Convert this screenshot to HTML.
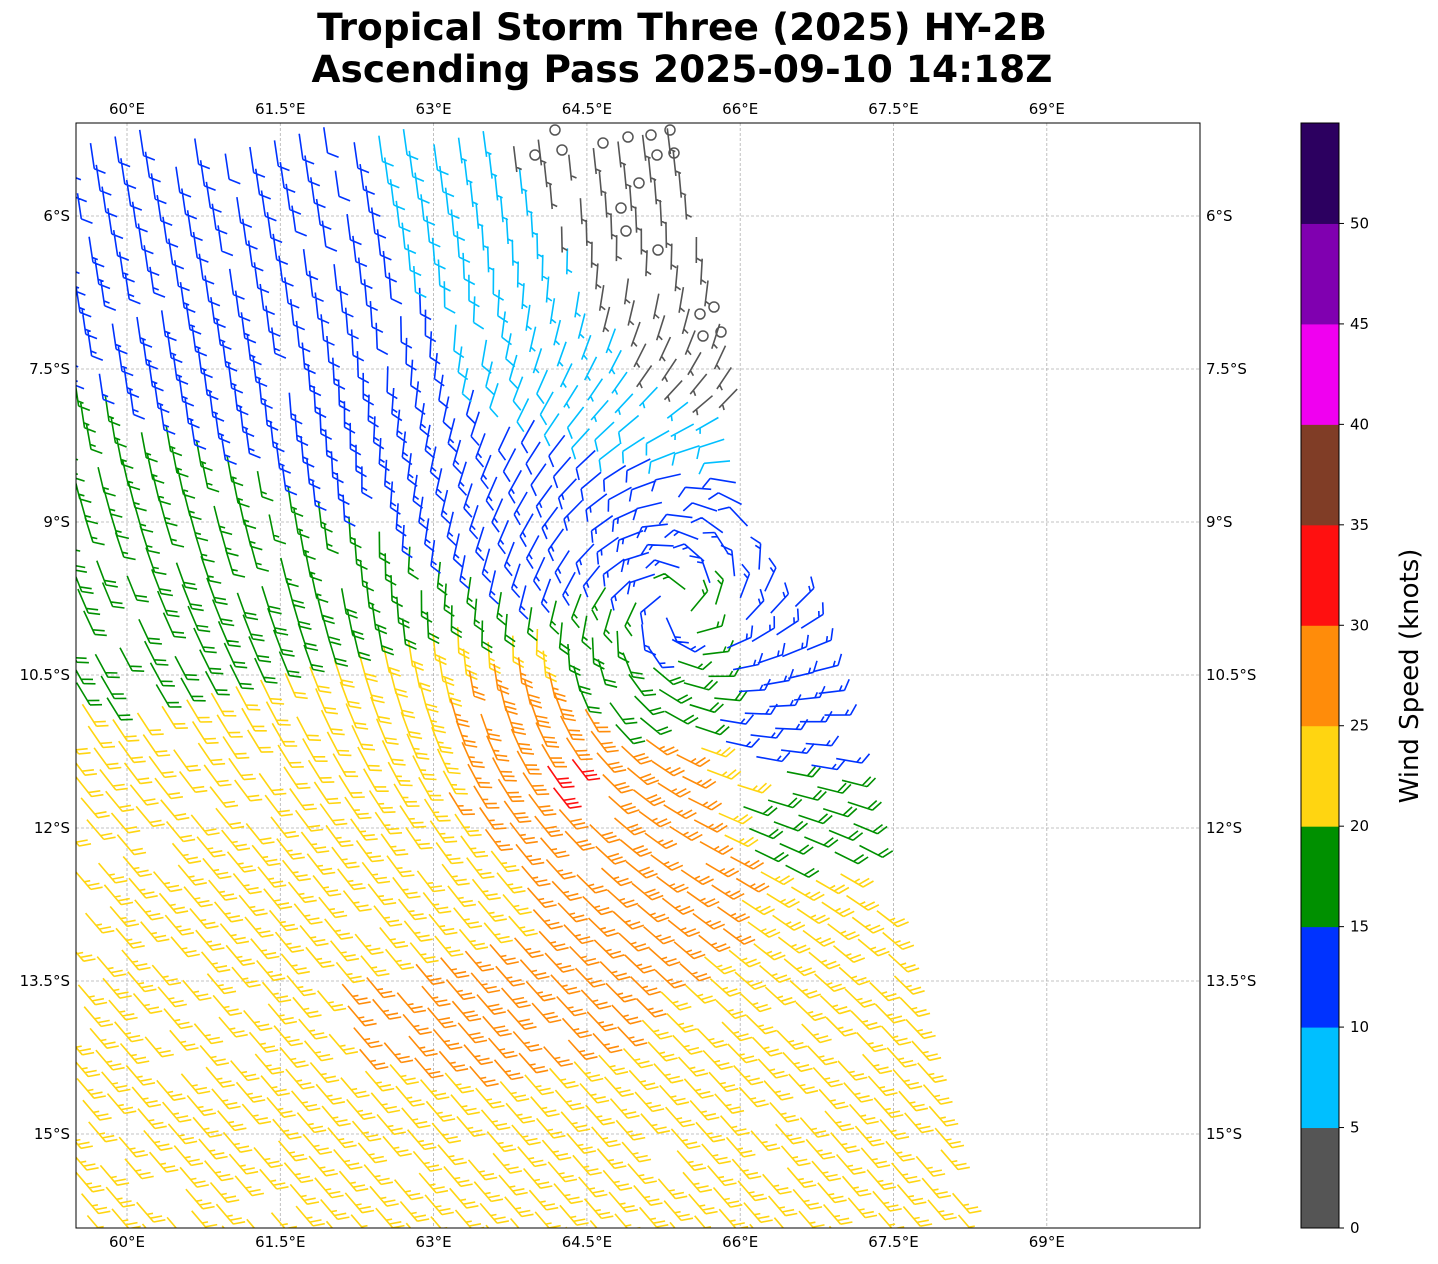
<!DOCTYPE html>
<html><head><meta charset="utf-8">
<style>
html,body{margin:0;padding:0;background:#fff;}
body{width:1438px;height:1264px;overflow:hidden;position:relative;font-family:"DejaVu Sans",sans-serif;}
svg{position:absolute;left:0;top:0;}
</style></head>
<body>
<svg id="s" width="1438" height="1264" xmlns="http://www.w3.org/2000/svg" font-family="DejaVu Sans, Liberation Sans, sans-serif">
<text x="682" y="40" font-size="37.5" font-weight="bold" text-anchor="middle">Tropical Storm Three (2025) HY-2B</text>
<text x="682" y="82" font-size="37.5" font-weight="bold" text-anchor="middle">Ascending Pass 2025-09-10 14:18Z</text>
<defs><clipPath id="cp"><rect x="76" y="123" width="1124" height="1105"/></clipPath></defs>
<g id="grid" stroke="#b0b0b0" stroke-width="0.8" stroke-dasharray="3,2"></g>
<g id="barbs" clip-path="url(#cp)" fill="none" stroke-width="1.6" stroke-linecap="butt"></g>
<rect x="76" y="123" width="1124" height="1105" fill="none" stroke="#000" stroke-width="1"/>
<g id="labels" font-size="15" fill="#000"></g>
<g id="cbar"></g>
<text transform="translate(1418,676) rotate(-90)" font-size="26" text-anchor="middle">Wind Speed (knots)</text>
</svg>
<script>
const NS="http://www.w3.org/2000/svg";
function el(tag,attrs,parent,txt){const e=document.createElementNS(NS,tag);for(const k in attrs)e.setAttribute(k,attrs[k]);if(txt!==undefined)e.textContent=txt;parent.appendChild(e);return e;}
const X0=76,X1=1200,Y0=123,Y1=1228;
const lx=l=>127+(l-60)*102.2, ly=a=>216+(a-6)*102.0;
const grid=document.getElementById('grid'),labels=document.getElementById('labels');
const lons=[60,61.5,63,64.5,66,67.5,69],lonT=["60°E","61.5°E","63°E","64.5°E","66°E","67.5°E","69°E"];
lons.forEach((l,i)=>{const x=lx(l);el('line',{x1:x,x2:x,y1:Y0,y2:Y1},grid);
 el('text',{x:x,y:114,'text-anchor':'middle'},labels,lonT[i]);el('text',{x:x,y:1247,'text-anchor':'middle'},labels,lonT[i]);});
const lats=[6,7.5,9,10.5,12,13.5,15],latT=["6°S","7.5°S","9°S","10.5°S","12°S","13.5°S","15°S"];
lats.forEach((a,i)=>{const y=ly(a);el('line',{x1:X0,x2:X1,y1:y,y2:y},grid);
 el('text',{x:70,y:y+5,'text-anchor':'end'},labels,latT[i]);el('text',{x:1206,y:y+5,'text-anchor':'start'},labels,latT[i]);});
const cols=["#555555","#00bfff","#0033ff","#009000","#ffd511","#ff8c0a","#ff1010","#803d26","#f000f0","#8000b0","#2c0060"];
const cb=document.getElementById('cbar');const seg=1105/11;
cols.forEach((c,i)=>{el('rect',{x:1301,y:1228-(i+1)*seg,width:38,height:seg+0.5,fill:c},cb);});
el('rect',{x:1301,y:123,width:38,height:1105,fill:'none',stroke:'#000','stroke-width':1},cb);
for(let v=0;v<=50;v+=5){const y=1228-v/5*seg;el('line',{x1:1339,x2:1344,y1:y,y2:y,stroke:'#000'},cb);el('text',{x:1350,y:y+5,'font-size':15},cb,String(v));}
const cx=660,cy=625;
function clamp(v,a,b){return Math.max(a,Math.min(b,v));}
function interp(pts,v){if(v<=pts[0][0])return pts[0][1];for(let i=1;i<pts.length;i++){if(v<=pts[i][0]){const t=(v-pts[i-1][0])/(pts[i][0]-pts[i-1][0]);return pts[i-1][1]+t*(pts[i][1]-pts[i-1][1]);}}return pts[pts.length-1][1];}
const edge=[[100,688],[250,700],[330,725],[420,745],[520,762],[600,795],[680,822],[760,845],[860,875],[930,892],[1228,975]];
function speed(x,y){
 const b1=390+0.49*(x-100), b2=700-0.18*(x-100);
 let s;
 if(y<b1) s=11+4*clamp((y-(b1-250))/250,0,1);
 else if(y<b2) s=15+5*(y-b1)/Math.max(b2-b1,1);
 else s=20+2.5*clamp((y-b2)/150,0,1);
 if(y>=b2-10){s+=5.5*Math.exp(-Math.pow((x-470)/170,2)-Math.pow((y-1010)/70,2))+4.5*Math.exp(-Math.pow((x-640)/130,2)-Math.pow((y-890)/80,2));}
 s+=8*Math.exp(-Math.pow((x-560)/110,2)-Math.pow((y-760)/80,2))+6*Math.exp(-Math.pow((x-500)/60,2)-Math.pow((y-680)/40,2));
 if(y<480){const bc=360+0.45*(y-150), bg=530+0.6*(y-150);
  let fade=clamp((480-y)/100,0,1);
  let calm;
  if(x<bc) calm=s; else if(x<bg) calm=10-5.5*(x-bc)/(bg-bc); else calm=3.5;
  s=s*(1-fade)+Math.min(s,calm)*fade;}
 const r=Math.hypot(x-cx,y-cy);
 if(r<110 && y>cy-40) s=clamp(s,16,19.5);
 else if(r<110) s=clamp(s,11,14.5);
 if(r<30) s=13;
 if(x>720&&y>430&&y<770){s=Math.min(s,14.5);if(y<470)s=Math.min(s,9);}
 if(x>740&&y>=770&&y<870) s=Math.min(s,18.5);
 return s;
}
function dir(x,y){
 const t=clamp((y-400)/400,0,1);
 let ex=0.15*(1-t)+0.65*t, ey=1*(1-t)+0.76*t;let n=Math.hypot(ex,ey);ex/=n;ey/=n;
 const rx=x-cx,ry=y-cy,r=Math.hypot(rx,ry)||1;
 let vx=-ry/r-0.35*rx/r, vy=rx/r-0.35*ry/r;
 const w=2.2*Math.min(1,r/60)*Math.exp(-Math.pow(r/240,2));
 let dx=ex-w*vx, dy=ey-w*vy; n=Math.hypot(dx,dy)||1;return [dx/n,dy/n];
}
function color(s){return cols[clamp(Math.floor(s/5),0,10)];}
const bg=document.getElementById('barbs');
let paths={};
function add(c,d){(paths[c]=paths[c]||[]).push(d);}
let circles=[];
function barb(px,py,dx,dy,s){
 const c=color(s);const n=Math.round(s/5)*5;
 if(n<5){circles.push([px,py]);return;}
 const L=26;const tx=px+L*dx,ty=py+L*dy;
 let d=`M${px.toFixed(1)} ${py.toFixed(1)}L${tx.toFixed(1)} ${ty.toFixed(1)}`;
 const bx=(dx*0.5+dy*0.866)*12, by=(-0.866*dx+0.5*dy)*12;
 const nf=Math.floor(n/10), nh=(n%10)>=5?1:0;
 let k=0;
 for(let i=0;i<nf;i++,k++){const ox=tx-k*5*dx,oy=ty-k*5*dy;d+=`M${ox.toFixed(1)} ${oy.toFixed(1)}l${bx.toFixed(1)} ${by.toFixed(1)}`;}
 if(nh){if(k===0)k=1;const ox=tx-k*5*dx,oy=ty-k*5*dy;d+=`M${ox.toFixed(1)} ${oy.toFixed(1)}l${(bx/2).toFixed(1)} ${(by/2).toFixed(1)}`;}
 add(c,d);
}
const spc=25.5, spa=22.5, ca=Math.cos(15*Math.PI/180), sa=Math.sin(15*Math.PI/180);
function hash(i,j){let h=(i*73856093)^(j*19349663);h=(h^(h>>>13))*1274126177;return ((h>>>0)%1000)/1000;}
for(let i=-40;i<70;i++){for(let j=-20;j<80;j++){
 const x=60+i*spc*ca+j*spa*sa, y=128-i*spc*sa+j*spa*ca;
 if(y<127||y>1240||x<60||x>1000)continue;
 if(x>interp(edge,y))continue;
 if(hash(i,j)<0.06)continue;
 if(y>560&&x<260&&hash(j,i)<0.12)continue;
 const s=speed(x,y);const [dx,dy]=dir(x,y);
 barb(x,y,dx,dy,s);
}}
for(const c in paths){el('path',{d:paths[c].join(''),stroke:c},bg);}
const manual=[[555,130],[535,155],[562,150],[603,143],[628,137],[651,135],[670,130],[657,155],[674,153],[639,183],[621,208],[626,231],[658,250],[700,314],[714,307],[703,336],[721,332]];
manual.forEach(p=>el('circle',{cx:p[0],cy:p[1],r:5,stroke:'#555',fill:'none','stroke-width':1.5},bg));
circles.slice(0,6).forEach(p=>el('circle',{cx:p[0],cy:p[1],r:5,stroke:'#555',fill:'none','stroke-width':1.5},bg));
</script>
</body></html>
